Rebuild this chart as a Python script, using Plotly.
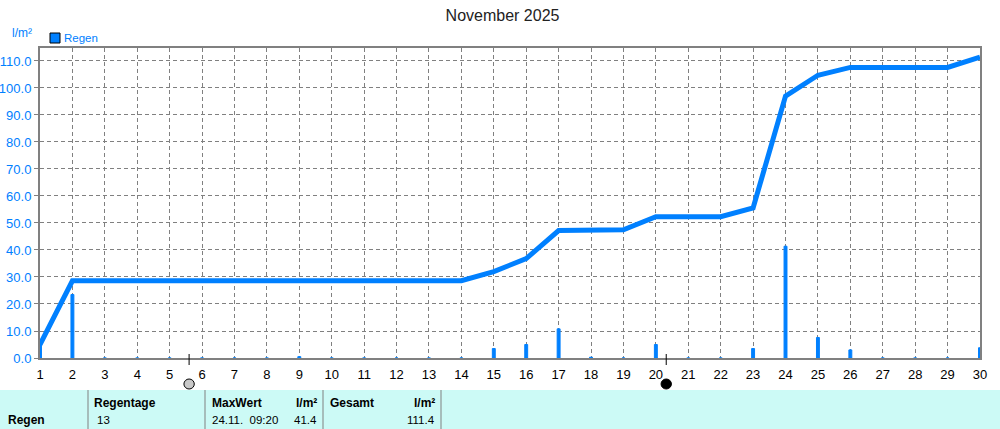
import plotly.graph_objects as go

WIDTH=1000
HEIGHT=429
BLUE='#0080FF'
GRAY='#808080'
FONT='Liberation Sans'

days=list(range(1,31))
rain=[5.0,23.5,0,0,0,0,0,0,0.5,0,0,0,0,0,3.5,5.0,10.8,0.3,0,5.0,0,0,3.5,41.4,7.6,3.0,0,0,0,3.8]
rain_total=[5.0,28.6,28.6,28.6,28.6,28.6,28.6,28.6,28.6,28.6,28.6,28.6,28.6,28.6,32.0,36.8,47.2,47.5,47.5,52.3,
            52.3,52.3,55.6,97.0,104.7,107.6,107.6,107.6,107.6,111.4]
y_ticks=[0,10,20,30,40,50,60,70,80,90,100,110]
moon_days=[5.6,20.32]
moon_colors=['#C8C8C8','#000000']

# table at the bottom: (x pixel, y pixel, text, bold, anchor)
table_dividers=[88,205,323,441]
table_cells=[
    (6,420,'Regen',True,'left'),
    (92,403,'Regentage',True,'left'),
    (95,420,'13',False,'left'),
    (210,403,'MaxWert',True,'left'),
    (319,403,'l/m²',True,'right'),
    (210,420,'24.11.  09:20',False,'left'),
    (319,420,'41.4',False,'right'),
    (328,403,'Gesamt',True,'left'),
    (437,403,'l/m²',True,'right'),
    (437,420,'111.4',False,'right'),
]

L,R,T,B=40,980,48,358

def py(p):
    # pixel row -> paper y
    return (B-p)/(B-T)

def px(p):
    return (p-L)/(R-L)

fig=go.Figure()
fig.add_trace(go.Bar(x=days,y=rain,width=0.09,marker_color=BLUE,marker_line_width=1,marker_line_color=BLUE,name='Regen'))
fig.add_trace(go.Scatter(x=days,y=rain_total,mode='lines',line=dict(color=BLUE,width=5),name='Summe'))

shapes=[]
annotations=[]

# bottom table
shapes.append(dict(type='rect',xref='paper',yref='paper',x0=px(0),x1=px(WIDTH),y0=py(429),y1=py(390),
                   fillcolor='#CCFAF6',line_width=0,layer='below'))
for d in table_dividers:
    shapes.append(dict(type='line',xref='paper',yref='paper',x0=px(d),x1=px(d),y0=py(429),y1=py(390),
                       line=dict(color=GRAY,width=1)))
for x,y,text,bold,anchor in table_cells:
    annotations.append(dict(xref='paper',yref='paper',x=px(x),y=py(y),text='<b>%s</b>'%text if bold else text,
                            showarrow=False,xanchor=anchor,yanchor='middle',
                            font=dict(family=FONT,size=12 if bold else 11.5,color='black')))

# moon phases
for d,c in zip(moon_days,moon_colors):
    shapes.append(dict(type='line',xref='x',yref='paper',x0=d,x1=d,y0=py(354),y1=py(365),
                       line=dict(color='black',width=1)))
    shapes.append(dict(type='circle',xref='x',yref='paper',x0=d-0.16,x1=d+0.16,y0=py(389),y1=py(379),
                       fillcolor=c,line=dict(color='black',width=1)))

# legend and unit
shapes.append(dict(type='rect',xref='paper',yref='paper',x0=px(50),x1=px(60),y0=py(43),y1=py(33),
                   fillcolor=BLUE,line=dict(color='black',width=1)))
annotations.append(dict(xref='paper',yref='paper',x=px(62),y=py(38),text='Regen',showarrow=False,xanchor='left',
                        yanchor='middle',font=dict(family=FONT,size=11.5,color=BLUE)))
annotations.append(dict(xref='paper',yref='paper',x=px(10),y=py(33),text='l/m²',showarrow=False,xanchor='left',
                        yanchor='middle',font=dict(family=FONT,size=12,color=BLUE)))

fig.update_layout(
    width=WIDTH,height=HEIGHT,
    margin=dict(l=L,r=WIDTH-R,t=T,b=HEIGHT-B,autoexpand=False),
    paper_bgcolor='white',plot_bgcolor='white',
    showlegend=False,hovermode=False,
    title=dict(text='November 2025',x=0.5025,xanchor='center',y=0.963,yanchor='middle',
               font=dict(family=FONT,size=16,color='#222222')),
    shapes=shapes,annotations=annotations,
)
fig.update_xaxes(range=[1,30],tickmode='array',tickvals=days,ticktext=[str(d) for d in days],automargin=False,
                 showline=True,linecolor=GRAY,linewidth=2,mirror=True,layer='below traces',
                 showgrid=True,gridcolor=GRAY,griddash='4px,3px',gridwidth=1,
                 ticks='',zeroline=False,ticklabelstandoff=3,
                 tickfont=dict(family=FONT,size=13,color='black'))
fig.update_yaxes(range=[0,114.8],tickmode='array',tickvals=y_ticks,ticktext=['%.1f'%v for v in y_ticks],automargin=False,
                 showline=True,linecolor=GRAY,linewidth=2,mirror=True,layer='below traces',
                 showgrid=True,gridcolor=GRAY,griddash='4px,3px',gridwidth=1,
                 ticks='outside',ticklen=4,tickcolor=GRAY,zeroline=False,
                 tickfont=dict(family=FONT,size=13,color=BLUE))

fig.write_html("out.html",config=dict(displayModeBar=False),post_script="document.body.style.margin='0';")
